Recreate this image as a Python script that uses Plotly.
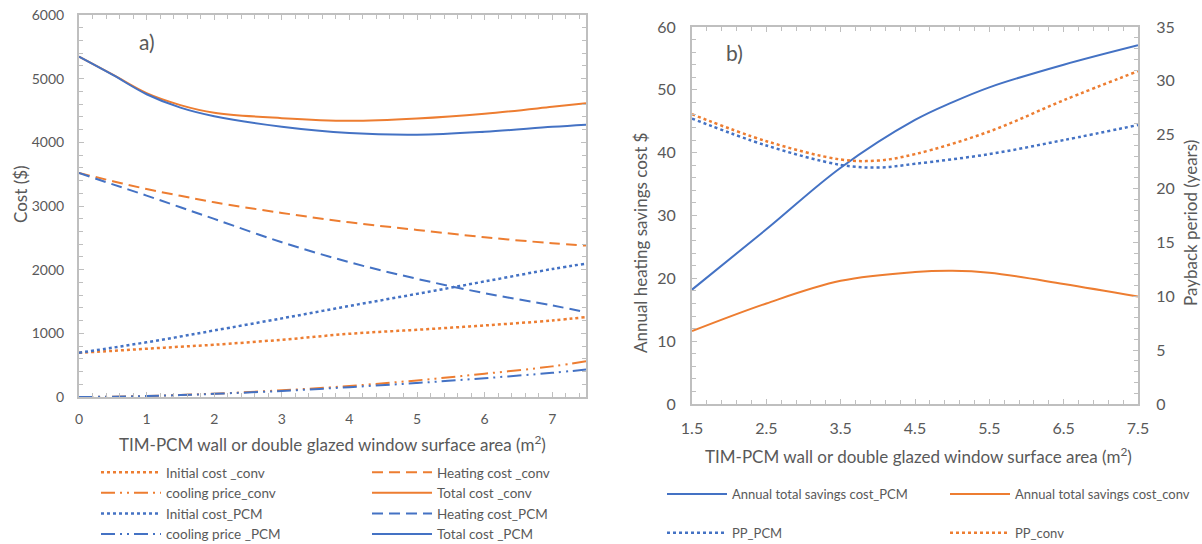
import plotly.graph_objects as go

# ---------------- data: chart a) ----------------
x_a = [0, 0.5, 1, 1.5, 2, 3, 4, 5, 6, 7, 7.5]
initial_conv = [695, 725, 758, 790, 821, 899, 993, 1056, 1124, 1202, 1255]
heating_conv = [3518, 3390, 3267, 3160, 3058, 2891, 2744, 2624, 2509, 2415, 2378]
cooling_conv = [0, 5, 16, 32, 52, 105, 173, 261, 366, 481, 560]
total_conv = [5345, 5062, 4772, 4585, 4465, 4380, 4339, 4375, 4450, 4558, 4615]
initial_pcm = [695, 775, 860, 950, 1045, 1235, 1430, 1620, 1815, 2010, 2095]
heating_pcm = [3518, 3340, 3163, 2980, 2797, 2431, 2117, 1856, 1631, 1438, 1333]
cooling_pcm = [0, 5, 15, 30, 50, 95, 155, 220, 295, 380, 430]
total_pcm = [5345, 5058, 4755, 4545, 4410, 4245, 4145, 4119, 4166, 4245, 4278]

# ---------------- data: chart b) ----------------
x_b = [1.5, 2.5, 3.5, 4.5, 5, 5.5, 6.5, 7.5]
savings_pcm = [18.2, 27.8, 37.6, 45.2, 48.0, 50.4, 54.0, 57.1]
savings_conv = [11.6, 16.0, 19.6, 21.0, 21.2, 20.9, 19.1, 17.1]
x_pp = [1.5, 2.5, 3.5, 4, 4.5, 5.5, 6.5, 7.5]
pp_pcm = [26.5, 24.0, 22.2, 21.95, 22.3, 23.2, 24.5, 25.9]
pp_conv = [26.9, 24.4, 22.7, 22.6, 23.2, 25.3, 28.2, 30.9]

ORANGE = "#ED7D31"
BLUE = "#4472C4"
GRID = "#BFBFBF"
TXT = "#595959"
FONT = "Lato"

DOT = "3px,3px"
DASH = "11px,6px"
DASHDOT = "14px,5px,2px,5px,2px,5px"

fig = go.Figure()

def add_a(y, name, color, dash, legend, width=2):
    fig.add_trace(go.Scatter(x=x_a, y=y, name=name, mode="lines",
                             line=dict(color=color, width=width, dash=dash, shape="spline"),
                             xaxis="x", yaxis="y", legend=legend))

# left column of legend a)
add_a(initial_conv, "Initial cost _conv", ORANGE, DOT, "legend", 2.5)
add_a(cooling_conv, "cooling price_conv", ORANGE, DASHDOT, "legend")
add_a(initial_pcm, "Initial cost_PCM", BLUE, DOT, "legend", 2.5)
add_a(cooling_pcm, "cooling price _PCM", BLUE, DASHDOT, "legend")
# right column of legend a)
add_a(heating_conv, "Heating cost _conv", ORANGE, DASH, "legend2")
add_a(total_conv, "Total cost _conv", ORANGE, "solid", "legend2")
add_a(heating_pcm, "Heating cost_PCM", BLUE, DASH, "legend2")
add_a(total_pcm, "Total cost _PCM", BLUE, "solid", "legend2")

fig.add_trace(go.Scatter(x=x_b, y=savings_pcm, name="Annual total savings cost_PCM", mode="lines",
                         line=dict(color=BLUE, width=2, shape="spline"),
                         xaxis="x2", yaxis="y2", legend="legend3", legendgroup="g1"))
fig.add_trace(go.Scatter(x=x_pp, y=pp_pcm, name="PP_PCM", mode="lines",
                         line=dict(color=BLUE, width=2.5, dash=DOT, shape="spline"),
                         xaxis="x2", yaxis="y3", legend="legend3", legendgroup="g2"))
fig.add_trace(go.Scatter(x=x_b, y=savings_conv, name="Annual total savings cost_conv", mode="lines",
                         line=dict(color=ORANGE, width=2, shape="spline"),
                         xaxis="x2", yaxis="y2", legend="legend4", legendgroup="g3"))
fig.add_trace(go.Scatter(x=x_pp, y=pp_conv, name="PP_conv", mode="lines",
                         line=dict(color=ORANGE, width=2.5, dash=DOT, shape="spline"),
                         xaxis="x2", yaxis="y3", legend="legend4", legendgroup="g4"))

W, H = 1202, 544
def dx(px): return px / W
def dy(py): return 1 - py / H

def axis_style(fs):
    return dict(showgrid=False, zeroline=False, showline=True, linecolor=GRID, linewidth=2,
                ticks="inside", tickcolor=GRID, ticklen=5, tickwidth=1,
                tickfont=dict(family=FONT, size=fs, color=TXT))

def minor(d, t0=None):
    m = dict(dtick=d, ticks="inside", ticklen=4, tickcolor=GRID, tickwidth=1)
    if t0 is not None:
        m["tick0"] = t0
    return m

leg_common = dict(orientation="v", xanchor="left", yanchor="top", bgcolor="rgba(0,0,0,0)",
                  borderwidth=0, itemwidth=60)

fig.update_layout(
    width=W, height=H,
    margin=dict(l=0, r=0, t=0, b=0, autoexpand=False),
    paper_bgcolor="white", plot_bgcolor="white",
    font=dict(family=FONT, color=TXT),
    xaxis=dict(domain=[dx(79), dx(586)], range=[0, 7.5], dtick=1, tick0=0, anchor="y",
               mirror="ticks", minor=minor(0.2), ticklabelstandoff=8, **axis_style(14)),
    yaxis=dict(domain=[dy(397), dy(15)], range=[0, 6000], dtick=1000, anchor="x",
               mirror="ticks", minor=minor(200), ticklabelstandoff=10, **axis_style(14)),
    xaxis2=dict(domain=[dx(692), dx(1138)], range=[1.5, 7.5], dtick=1, tick0=1.5, anchor="y2",
                mirror="ticks", tickformat=".1f", minor=minor(0.2, 1.5), ticklabelstandoff=9,
                **axis_style(16)),
    yaxis2=dict(domain=[dy(404), dy(27)], range=[0, 60], dtick=10, anchor="x2",
                minor=minor(2), ticklabelstandoff=11, **axis_style(16)),
    yaxis3=dict(range=[0, 35], dtick=5, anchor="x2", overlaying="y2", side="right",
                minor=minor(1), ticklabelstandoff=13, **axis_style(16)),
    legend=dict(x=dx(96), y=dy(457), font=dict(family=FONT, size=13.5, color=TXT), **leg_common),
    legend2=dict(x=dx(367), y=dy(457), font=dict(family=FONT, size=13.5, color=TXT), **leg_common),
    legend3=dict(x=dx(662), y=dy(479), tracegroupgap=19,
                 font=dict(family=FONT, size=13, color=TXT), **leg_common),
    legend4=dict(x=dx(945), y=dy(479), tracegroupgap=19,
                 font=dict(family=FONT, size=13, color=TXT), **leg_common),
    annotations=[
        dict(text="a)", x=dx(137), y=dy(42), xref="paper", yref="paper", showarrow=False,
             xanchor="left", yanchor="middle", font=dict(family=FONT, size=21, color=TXT)),
        dict(text="b)", x=dx(724), y=dy(52), xref="paper", yref="paper", showarrow=False,
             xanchor="left", yanchor="middle", font=dict(family=FONT, size=21, color=TXT)),
        # axis titles
        dict(text="TIM-PCM wall or double glazed window surface area (m<sup>2</sup>)",
             x=dx(333), y=dy(443), xref="paper", yref="paper", showarrow=False,
             xanchor="center", yanchor="middle", font=dict(family=FONT, size=17, color=TXT)),
        dict(text="Cost ($)", x=dx(20), y=dy(194), xref="paper", yref="paper", showarrow=False,
             textangle=-90, xanchor="center", yanchor="middle", font=dict(family=FONT, size=17, color=TXT)),
        dict(text="TIM-PCM wall or double glazed window surface area (m<sup>2</sup>)",
             x=dx(918), y=dy(455), xref="paper", yref="paper", showarrow=False,
             xanchor="center", yanchor="middle", font=dict(family=FONT, size=17, color=TXT)),
        dict(text="Annual heating savings cost $", x=dx(640), y=dy(243), xref="paper", yref="paper",
             showarrow=False, textangle=-90, xanchor="center", yanchor="middle",
             font=dict(family=FONT, size=17, color=TXT)),
        dict(text="Payback period (years)", x=dx(1190), y=dy(223), xref="paper", yref="paper",
             showarrow=False, textangle=-90, xanchor="center", yanchor="middle",
             font=dict(family=FONT, size=17, color=TXT)),
    ],
    showlegend=True,
)

fig.write_html("out.html", config={"displayModeBar": False},
               post_script="document.body.style.margin='0';")
